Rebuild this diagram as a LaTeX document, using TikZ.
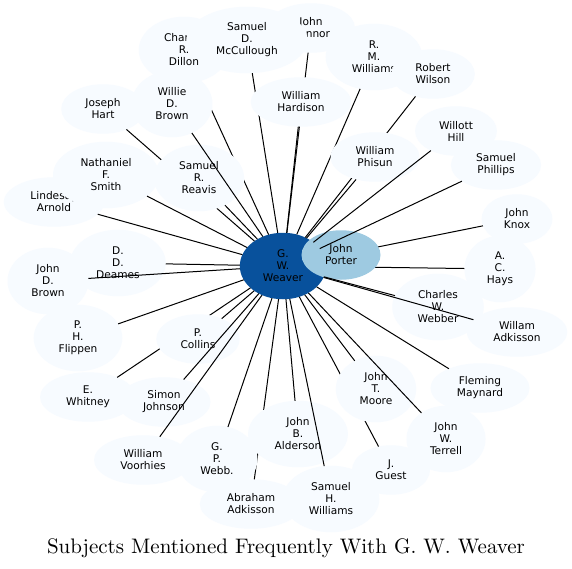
\documentclass[tikz,border=0pt]{standalone}
\usepackage{fontspec}
\newfontfamily\dv{DejaVu Sans}
\newfontfamily\ttl{lmroman10-regular.otf}
\usetikzlibrary{shapes.geometric}
\definecolor{pale}{HTML}{F7FBFF}
\definecolor{hub}{HTML}{08519C}
\definecolor{mid}{HTML}{9ECAE1}
\tikzset{
  nd/.style={ellipse, fill=pale, inner xsep=12pt, inner ysep=0pt, outer sep=0pt,
    align=center, font=\dv\fontsize{10.6}{12}\selectfont},
  two/.style={nd, minimum height=49.5pt},
  three/.style={nd, minimum height=66.5pt},
  ed/.style={draw=black, line width=1pt}
}
\begin{document}
\begin{tikzpicture}[x=1pt,y=-1pt]
\fill[white] (0,0) rectangle (572,569);
\useasboundingbox (0,0) rectangle (572,569);
\node[three, fill=hub, inner xsep=10.5pt] (W) at (283,266) {G.\\W.\\Weaver};
\node[three] (dillon) at (184,50) {Charles\\R.\\Dillon}; \draw[ed] (W) -- (dillon);
\node[two] (connor) at (311,28) {John\\Connor}; \draw[ed] (W) -- (connor);
\node[three] (mcc) at (247,40) {Samuel\\D.\\McCullough}; \draw[ed] (W) -- (mcc);
\node[two] (hardison) at (301,102) {William\\Hardison}; \draw[ed] (W) -- (hardison);
\node[two] (hart) at (103,109) {Joseph\\Hart}; \draw[ed] (W) -- (hart);
\node[three] (reavis) at (199,178) {Samuel\\R.\\Reavis}; \draw[ed] (W) -- (reavis);
\node[three] (wbrown) at (172,104) {Willie\\D.\\Brown}; \draw[ed] (W) -- (wbrown);
\node[three] (rmw) at (374,57) {R.\\M.\\Williams}; \draw[ed] (W) -- (rmw);
\node[two] (wilson) at (433,74) {Robert\\Wilson}; \draw[ed] (W) -- (wilson);
\node[two] (phisun) at (375,157) {William\\Phisun}; \draw[ed] (W) -- (phisun);
\node[two] (knox) at (517,219) {John\\Knox}; \draw[ed] (W) -- (knox);
\node[three] (hays) at (500,269) {A.\\C.\\Hays}; \draw[ed] (W) -- (hays);
\node[two, fill=mid] (porter) at (341,255) {John\\Porter};
\node[two] (hill) at (456,131) {Willott\\Hill}; \draw[ed] (W) -- (hill);
\node[two] (phillips) at (496,165) {Samuel\\Phillips}; \draw[ed] (W) -- (phillips);
\node[three] (webber) at (438,307) {Charles\\W.\\Webber}; \draw[ed] (W) -- (webber);
\node[two] (wadk) at (517,332) {Willam\\Adkisson}; \draw[ed] (W) -- (wadk);
\node[two] (fleming) at (480,388) {Fleming\\Maynard}; \draw[ed] (W) -- (fleming);
\node[two] (guest) at (391,470) {J.\\Guest}; \draw[ed] (W) -- (guest);
\node[three] (moore) at (376,389) {John\\T.\\Moore}; \draw[ed] (W) -- (moore);
\node[three] (terrell) at (446,439) {John\\W.\\Terrell}; \draw[ed] (W) -- (terrell);
\node[two] (abraham) at (251,504) {Abraham\\Adkisson}; \draw[ed] (W) -- (abraham);
\node[three] (alderson) at (298,434) {John\\B.\\Alderson}; \draw[ed] (W) -- (alderson);
\node[three] (shw) at (331,499) {Samuel\\H.\\Williams}; \draw[ed] (W) -- (shw);
\node[three] (webb) at (217,459) {G.\\P.\\Webb.}; \draw[ed] (W) -- (webb);
\node[two] (whitney) at (88,397) {E.\\Whitney}; \draw[ed] (W) -- (whitney);
\node[two] (collins) at (198,339) {P.\\Collins}; \draw[ed] (W) -- (collins);
\node[two] (simon) at (164,402) {Simon\\Johnson}; \draw[ed] (W) -- (simon);
\node[two] (voorhies) at (143,460) {William\\Voorhies}; \draw[ed] (W) -- (voorhies);
\node[three] (flippen) at (78,338) {P.\\H.\\Flippen}; \draw[ed] (W) -- (flippen);
\node[three] (deames) at (118,263) {D.\\D.\\Deames}; \draw[ed] (W) -- (deames);
\node[three] (jdbrown) at (48,281) {John\\D.\\Brown}; \draw[ed] (W) -- (jdbrown);
\node[two] (arnold) at (54,202) {Lindesay\\Arnold}; \draw[ed] (W) -- (arnold);
\node[three] (smith) at (106,175) {Nathaniel\\F.\\Smith}; \draw[ed] (W) -- (smith);
\node[anchor=base, inner sep=0pt, font=\ttl\fontsize{21}{25}\selectfont] (title) at (286,553) {Subjects Mentioned Frequently With G. W. Weaver};
\end{tikzpicture}
\end{document}
